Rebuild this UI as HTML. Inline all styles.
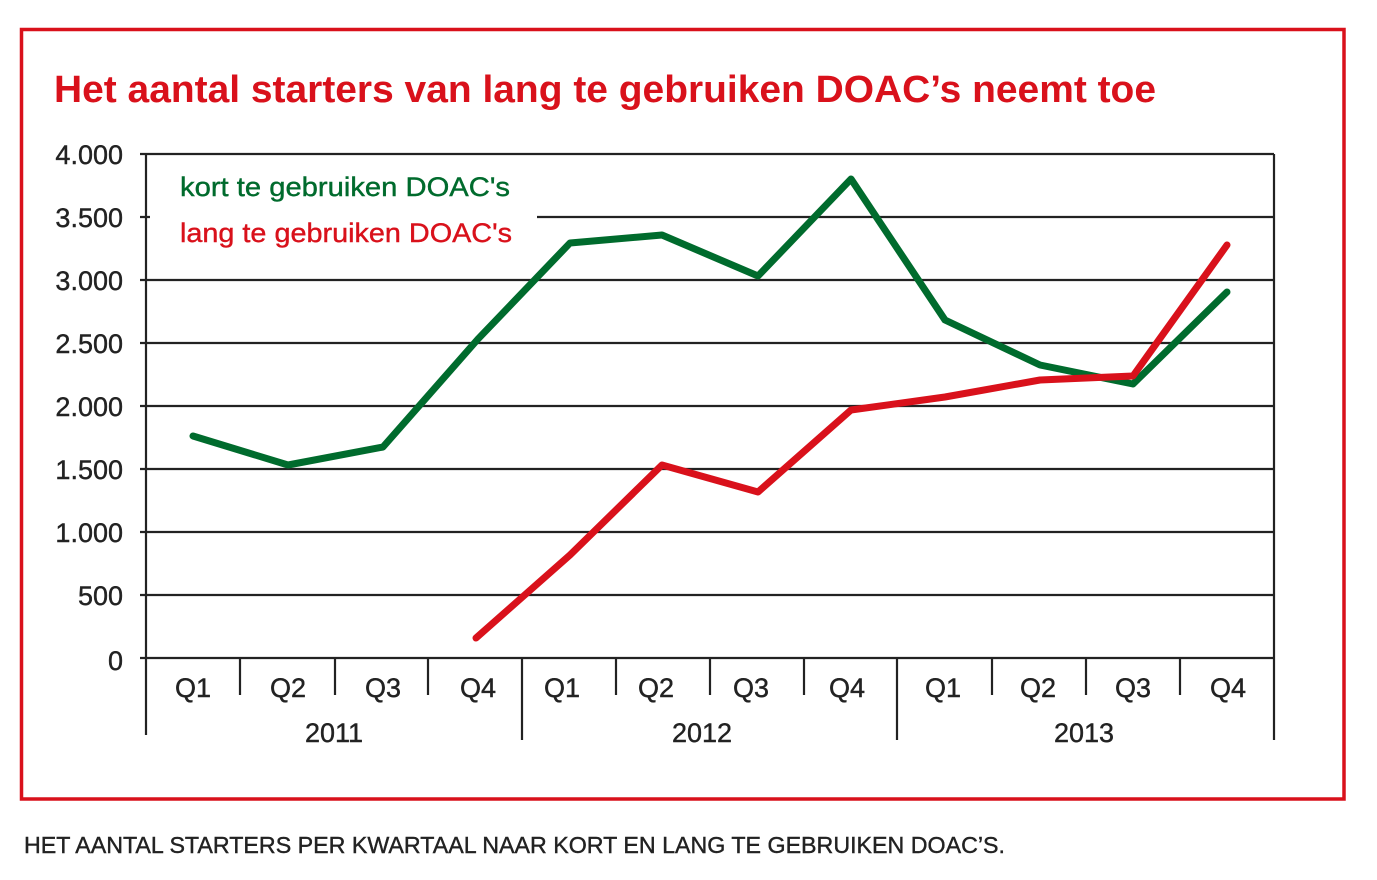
<!DOCTYPE html>
<html><head><meta charset="utf-8"><style>html,body{margin:0;padding:0;background:#fff}svg{display:block}</style></head>
<body>
<svg width="1377" height="880" xmlns="http://www.w3.org/2000/svg" font-family="'Liberation Sans', 'DejaVu Sans', sans-serif">
<rect x="21.5" y="29.5" width="1322.5" height="769.5" fill="none" stroke="#d9111b" stroke-width="3.5"/>
<text x="54" y="102" font-size="38" font-weight="bold" fill="#d9111b" textLength="1102" lengthAdjust="spacingAndGlyphs">Het aantal starters van lang te gebruiken DOAC’s neemt toe</text>
<g stroke="#222" stroke-width="2.2" fill="none">
<line x1="140" y1="154" x2="1274" y2="154"/>
<line x1="140" y1="217" x2="1274" y2="217"/>
<line x1="140" y1="280" x2="1274" y2="280"/>
<line x1="140" y1="343" x2="1274" y2="343"/>
<line x1="140" y1="406" x2="1274" y2="406"/>
<line x1="140" y1="469" x2="1274" y2="469"/>
<line x1="140" y1="532" x2="1274" y2="532"/>
<line x1="140" y1="595" x2="1274" y2="595"/>
<line x1="140" y1="658" x2="1274" y2="658"/>
<line x1="146" y1="154" x2="146" y2="735"/>
<line x1="1274" y1="154" x2="1274" y2="740"/>
<line x1="522" y1="658" x2="522" y2="740"/>
<line x1="897" y1="658" x2="897" y2="740"/>
<line x1="240" y1="658" x2="240" y2="695"/>
<line x1="335" y1="658" x2="335" y2="695"/>
<line x1="428" y1="658" x2="428" y2="695"/>
<line x1="616" y1="658" x2="616" y2="695"/>
<line x1="710" y1="658" x2="710" y2="695"/>
<line x1="804" y1="658" x2="804" y2="695"/>
<line x1="992" y1="658" x2="992" y2="695"/>
<line x1="1086" y1="658" x2="1086" y2="695"/>
<line x1="1180" y1="658" x2="1180" y2="695"/>
</g>
<rect x="150" y="159" width="387" height="92" fill="#fff"/>
<g font-size="27" fill="#222" text-anchor="end" stroke="#222" stroke-width="0.4">
<text x="123" y="164">4.000</text><text x="123" y="227">3.500</text><text x="123" y="290">3.000</text>
<text x="123" y="353">2.500</text><text x="123" y="416">2.000</text><text x="123" y="479">1.500</text>
<text x="123" y="542">1.000</text><text x="123" y="605">500</text><text x="123" y="670">0</text>
</g>
<g font-size="27" fill="#222" text-anchor="middle" stroke="#222" stroke-width="0.4">
<text x="193" y="697">Q1</text><text x="288" y="697">Q2</text><text x="383" y="697">Q3</text><text x="478" y="697">Q4</text>
<text x="562" y="697">Q1</text><text x="656" y="697">Q2</text><text x="751" y="697">Q3</text><text x="847" y="697">Q4</text>
<text x="943" y="697">Q1</text><text x="1038" y="697">Q2</text><text x="1133" y="697">Q3</text><text x="1228" y="697">Q4</text>
<text x="334" y="742">2011</text><text x="702" y="742">2012</text><text x="1084" y="742">2013</text>
</g>
<text x="180" y="196" font-size="27" fill="#006b2d" stroke="#006b2d" stroke-width="0.4" textLength="330" lengthAdjust="spacingAndGlyphs">kort te gebruiken DOAC's</text>
<text x="180" y="242" font-size="27" fill="#d9111b" stroke="#d9111b" stroke-width="0.4" textLength="332" lengthAdjust="spacingAndGlyphs">lang te gebruiken DOAC's</text>
<polyline fill="none" stroke="#006b2d" stroke-width="7" stroke-linecap="round" stroke-linejoin="round" points="193,436 288,465 383,447 478,339 570,243 662,235 758,276 851,179 945,320 1040,365 1133,384 1227,292"/>
<polyline fill="none" stroke="#d9111b" stroke-width="7" stroke-linecap="round" stroke-linejoin="round" points="476,638 570,555 662,465 758,492 851,410 945,397 1040,380 1133,376 1227,245"/>
<text x="24" y="853" font-size="23" fill="#222" stroke="#222" stroke-width="0.4" textLength="981" lengthAdjust="spacingAndGlyphs">HET AANTAL STARTERS PER KWARTAAL NAAR KORT EN LANG TE GEBRUIKEN DOAC’S.</text>
</svg>
</body></html>
